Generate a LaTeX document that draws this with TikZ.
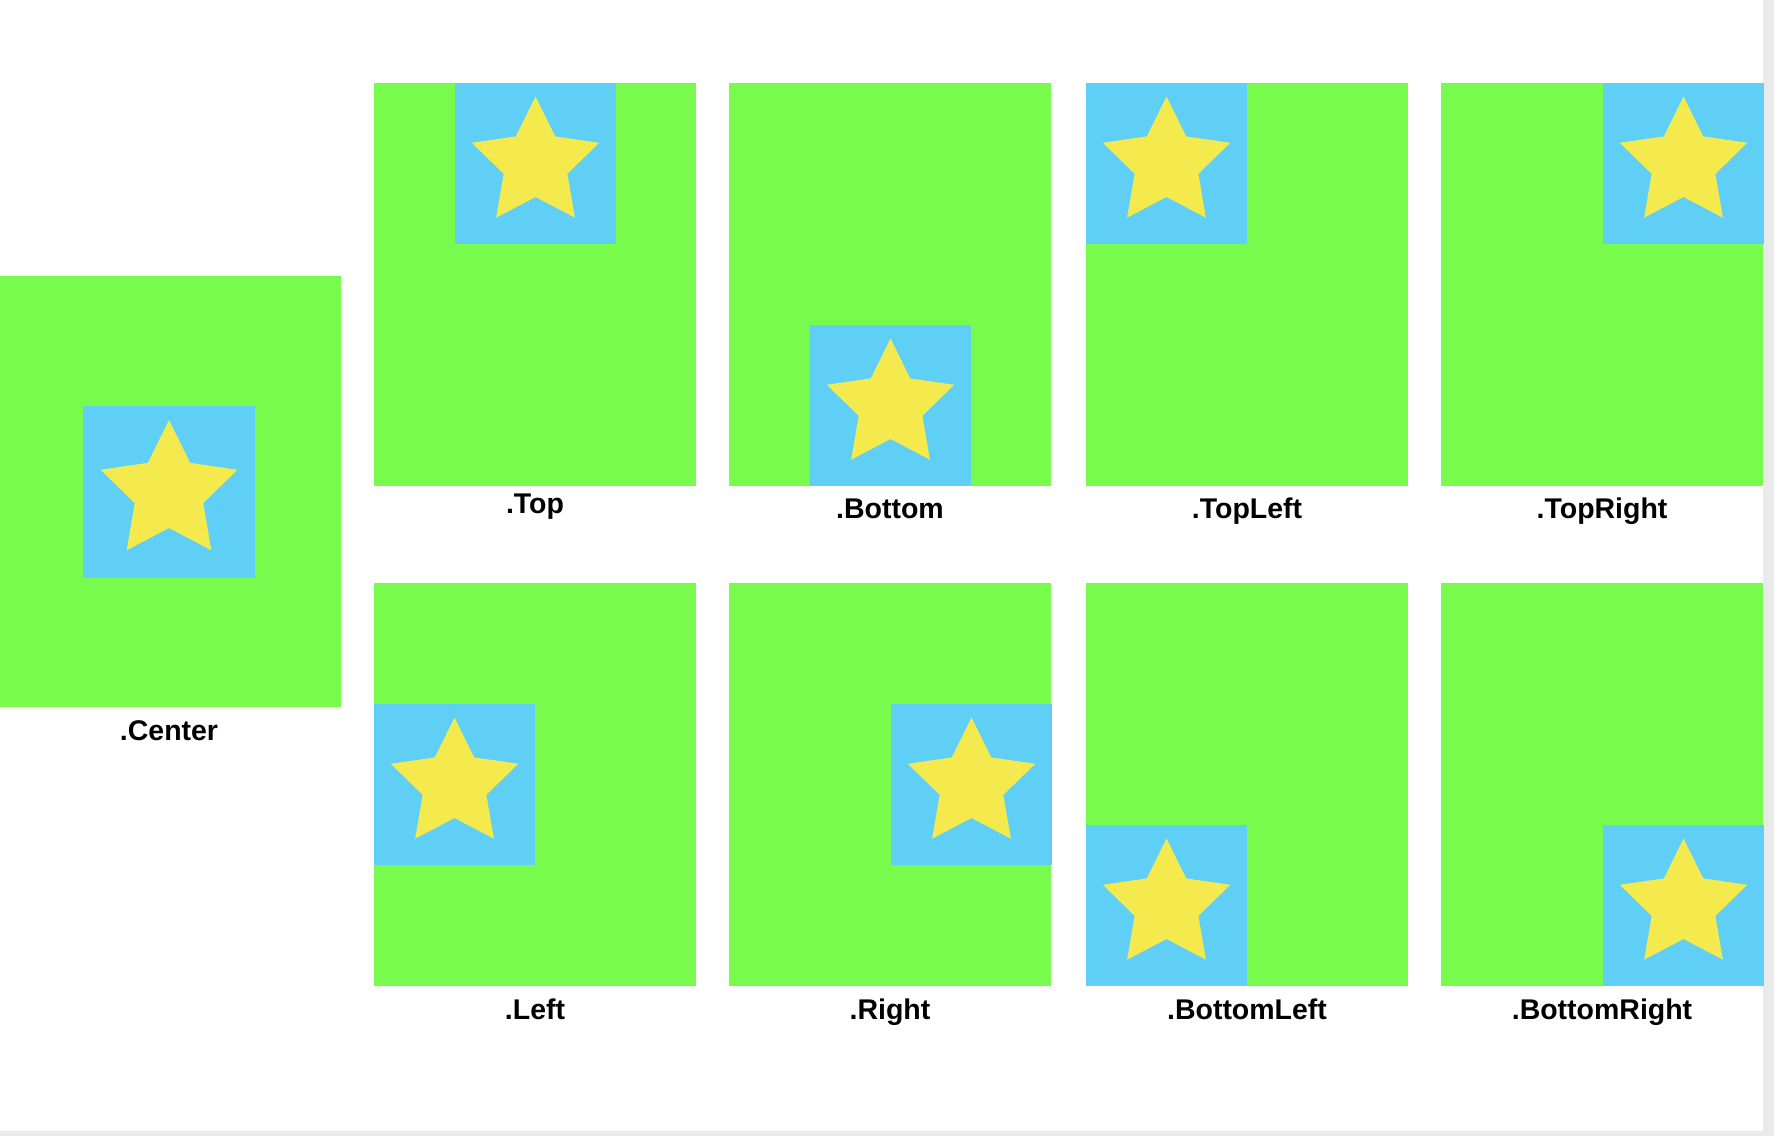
\documentclass[tikz,border=0pt]{standalone}
\usepackage{fontspec}
\setmainfont{Liberation Sans}
\usepackage{tikz}
\usepackage{xcolor}

\definecolor{panelgreen}{RGB}{121,251,77}
\definecolor{insetblue}{RGB}{95,207,245}
\definecolor{staryellow}{RGB}{244,234,77}
\definecolor{edgegray}{RGB}{234,234,234}

\tikzset{
  panel/.style={fill=panelgreen},
  inset/.style={fill=insetblue},
  starfill/.style={fill=staryellow},
  caption/.style={anchor=base, inner sep=0pt, font=\fontsize{8.1}{10}\selectfont\bfseries}
}

% five pointed star: centre x, centre y, outer radius
\newcommand{\starat}[3]{%
  \fill[starfill, shift={(#1,#2)}]
    (90:#3) -- (126:#3/2) -- (162:#3) -- (198:#3/2) -- (234:#3)
    -- (270:#3/2) -- (306:#3) -- (342:#3/2) -- (18:#3) -- (54:#3/2) -- cycle;}

\begin{document}
\begin{tikzpicture}[x=0.01cm, y=0.01cm]

    % Page frame
    \useasboundingbox (0,0) rectangle (1774,1136);
    \fill[white] (0,0) rectangle (1774,1136);
    \fill[edgegray] (1763,0) rectangle (1774,1136);
    \fill[edgegray] (0,0) rectangle (1774,5);

    % Large centred panel
    \fill[panel] (0,429) rectangle (341,860);
    \fill[inset] (83,558) rectangle (255,730);
    \starat{169}{644}{72}
    \node[caption] (lblcenter) at (169,396) {.Center};

    % Small panels: left x / bottom y / inset dx / inset dy / label y / name
    \foreach \bx/\by/\ix/\iy/\ly/\name in {
        374/650/81/242/623/Top,
        729/650/81/0/617/Bottom,
        1086/650/0/242/617/TopLeft,
        1441/650/162/242/617/TopRight,
        374/150/0/121/117/Left,
        729/150/162/121/117/Right,
        1086/150/0/0/117/BottomLeft,
        1441/150/162/0/117/BottomRight} {
      \fill[panel] (\bx,\by) rectangle ++(322,403);
      \fill[inset] (\bx+\ix,\by+\iy) rectangle ++(161,161);
      \starat{\bx+\ix+80.5}{\by+\iy+80.5}{67}
      \node[caption] (lbl\name) at (\bx+161,\ly) {.\name};
    }

\end{tikzpicture}
\end{document}
